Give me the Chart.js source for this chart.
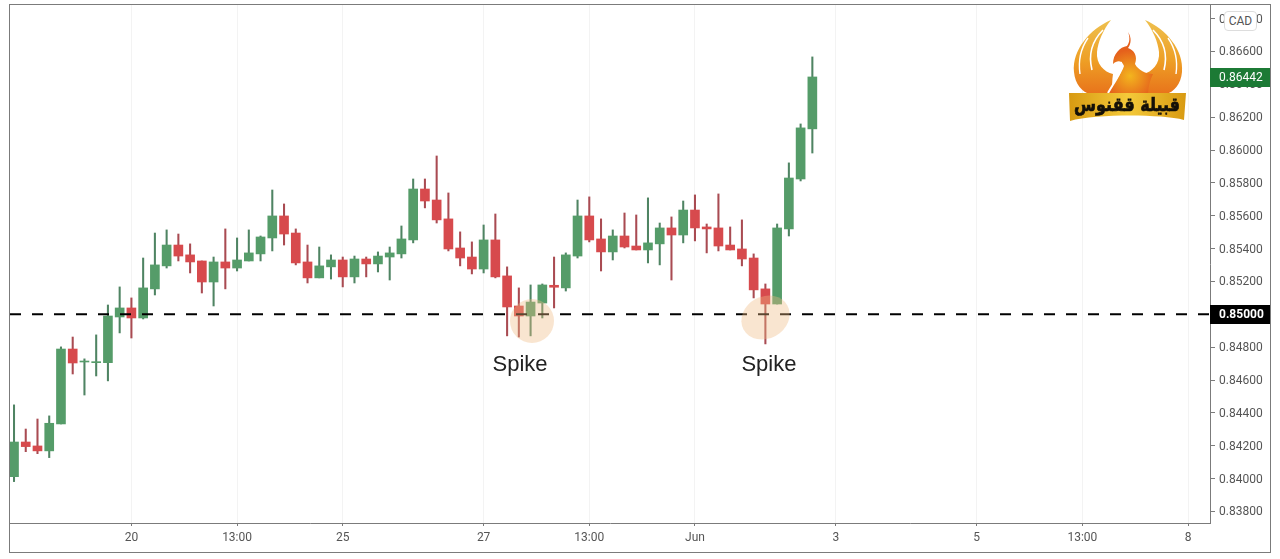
<!DOCTYPE html>
<html>
<head>
<meta charset="utf-8">
<title>CAD chart</title>
<script src="https://cdn.jsdelivr.net/npm/chart.js@4/dist/chart.umd.min.js"></script>
<style>
    html, body { margin: 0; padding: 0; background: #fff; overflow: hidden; }
    #wrap { position: relative; width: 1280px; height: 559px; }
    #chart { position: absolute; left: 0; top: 0; }
    #cad {
        position: absolute; left: 1224px; top: 11px; width: 31px; height: 18px; line-height: 18px;
        border: 1px solid #ddd; border-radius: 4px; background: #fff; color: #555;
        font: 12px/18px Roboto, sans-serif; text-align: center;
    }
    #logo { position: absolute; left: 0; top: 0; }
</style>
</head>
<body>
<div id="wrap">
    <canvas id="chart" width="1280" height="559"></canvas>
    <svg id="logo" width="1280" height="130" viewBox="0 0 1280 130">
        <defs>
            <linearGradient id="wing" gradientUnits="userSpaceOnUse" x1="0" y1="20" x2="0" y2="94">
                <stop offset="0" stop-color="#eec04e"/>
                <stop offset="0.55" stop-color="#ee9f25"/>
                <stop offset="1" stop-color="#e8731b"/>
            </linearGradient>
            <radialGradient id="core" gradientUnits="userSpaceOnUse" cx="1130" cy="76" r="26">
                <stop offset="0" stop-color="#f3b51e"/>
                <stop offset="1" stop-color="#e5601c"/>
            </radialGradient>
            <linearGradient id="banner" x1="0" y1="0" x2="1" y2="0">
                <stop offset="0" stop-color="#d89a12"/>
                <stop offset="0.5" stop-color="#f4c93a"/>
                <stop offset="1" stop-color="#d89a12"/>
            </linearGradient>
            <g id="wingShape">
                <path d="M1111 20 C1090 29 1072 50 1074 72 C1075 84 1082 92 1090 94 L1112 94 C1112 88 1112 80 1113 74 C1104 72 1096 64 1097 52 C1098 42 1103 30 1111 20 Z" fill="url(#wing)"/>
                <path d="M1103 30 C1093 40 1088 54 1092 70" fill="none" stroke="#fff" stroke-width="1.6"/>
                <path d="M1088 38 C1081 48 1078 60 1080 74" fill="none" stroke="#fff" stroke-width="1.4"/>
            </g>
        </defs>
        <use href="#wingShape"/>
        <use href="#wingShape" transform="translate(2256,0) scale(-1,1)"/>
        <path d="M1128 32 C1132 38 1131 44 1128 48 C1134 50 1138 56 1135 64 C1138 70 1146 74 1153 74 C1150 80 1148 88 1148 94 L1108 94 C1112 84 1122 74 1124 66 C1122 60 1117 60 1113 64 C1113 54 1120 47 1127 46 C1130 42 1130 37 1128 32 Z" fill="url(#core)"/>
        <path d="M1121 62 C1123 72 1114 82 1108 93" fill="none" stroke="#fff" stroke-width="2"/>
        <path d="M1069 93 L1186 93 L1184 120 C1160 114 1096 114 1070 121 Z" fill="url(#banner)"/>
        <text x="1127" y="111" text-anchor="middle" font-family="DejaVu Sans" font-weight="bold" font-size="19" fill="#141008" stroke="#141008" stroke-width="0.7" textLength="106" lengthAdjust="spacingAndGlyphs" direction="rtl">قبيلة ققنوس</text>
    </svg>
    <div id="cad">CAD</div>
</div>
<script>
const opens = [0.84012,0.84223,0.84199,0.84169,0.84333,0.84789,0.84710,0.84706,0.84706,0.84984,0.85039,0.84978,0.85155,0.85295,0.85422,0.85362,0.85325,0.85197,0.85319,0.85282,0.85325,0.85368,0.85465,0.85599,0.85495,0.85319,0.85222,0.85289,0.85331,0.85228,0.85337,0.85307,0.85349,0.85368,0.85453,0.85763,0.85696,0.85581,0.85404,0.85349,0.85276,0.85453,0.85234,0.85051,0.84990,0.85069,0.85177,0.85161,0.85355,0.85599,0.85459,0.85380,0.85477,0.85416,0.85392,0.85429,0.85526,0.85483,0.85635,0.85532,0.85526,0.85422,0.85398,0.85343,0.85155,0.85063,0.85520,0.85824,0.86129];
const highs = [0.84449,0.84302,0.84363,0.84382,0.84802,0.84862,0.84729,0.84875,0.85057,0.85167,0.85100,0.85343,0.85495,0.85514,0.85489,0.85429,0.85325,0.85349,0.85520,0.85465,0.85514,0.85477,0.85757,0.85672,0.85520,0.85422,0.85410,0.85362,0.85349,0.85355,0.85349,0.85380,0.85410,0.85538,0.85824,0.85824,0.85964,0.85739,0.85502,0.85441,0.85544,0.85611,0.85289,0.85161,0.85179,0.85185,0.85349,0.85374,0.85696,0.85715,0.85581,0.85514,0.85617,0.85605,0.85709,0.85556,0.85593,0.85690,0.85727,0.85550,0.85733,0.85532,0.85575,0.85368,0.85185,0.85550,0.85922,0.86159,0.86567];
const lows = [0.83982,0.84164,0.84152,0.84128,0.84333,0.84637,0.84509,0.84625,0.84595,0.84887,0.84856,0.84972,0.85118,0.85282,0.85325,0.85252,0.85130,0.85051,0.85155,0.85264,0.85325,0.85325,0.85386,0.85422,0.85301,0.85191,0.85222,0.85215,0.85167,0.85191,0.85228,0.85258,0.85209,0.85343,0.85435,0.85648,0.85556,0.85386,0.85295,0.85246,0.85252,0.85222,0.84869,0.84862,0.84869,0.84978,0.85039,0.85142,0.85343,0.85441,0.85264,0.85331,0.85404,0.85392,0.85313,0.85301,0.85209,0.85435,0.85447,0.85374,0.85386,0.85392,0.85295,0.85100,0.84820,0.85063,0.85477,0.85812,0.85982];
const closes = [0.84223,0.84195,0.84169,0.84337,0.84789,0.84704,0.84716,0.84712,0.84990,0.85039,0.84978,0.85161,0.85301,0.85422,0.85355,0.85319,0.85197,0.85319,0.85282,0.85331,0.85374,0.85471,0.85599,0.85489,0.85313,0.85222,0.85295,0.85331,0.85228,0.85337,0.85307,0.85355,0.85374,0.85459,0.85763,0.85690,0.85575,0.85398,0.85343,0.85276,0.85453,0.85228,0.85045,0.84990,0.85075,0.85179,0.85165,0.85362,0.85599,0.85453,0.85380,0.85477,0.85410,0.85392,0.85435,0.85526,0.85483,0.85635,0.85526,0.85520,0.85416,0.85392,0.85337,0.85149,0.85063,0.85526,0.85830,0.86135,0.86445];

const priceTicks = [0.838,0.840,0.842,0.844,0.846,0.848,0.850,0.852,0.854,0.856,0.858,0.860,0.862,0.864,0.866,0.868];
const timeTicks = [10,19,28,40,49,58,70,82,91,100];
const timeLabels = ['20','13:00','25','27','13:00','Jun','3','5','13:00','8'];

const supportLevel = 0.85;
const lastPrice = 0.86442;
const spikeLabels = [[43.1, 0.84692], [64.3, 0.84692]];

const UP = '#559c69';
const DOWN = '#d74a4d';
const UP_WICK = '#4f8463';
const DOWN_WICK = '#a94b52';
const FRAME = '#7b7b7b';

const bodies = opens.map((o, i) => ({ x: i, y: [o, closes[i]] }));
const wicks = highs.map((h, i) => ({ x: i, y: [lows[i], h] }));
const isUp = opens.map((o, i) => closes[i] >= o);

// frame, spike highlights and price tags sit on top of the chart
const overlay = {
    id: 'overlay',
    beforeDatasetsDraw(chart) {
        const c = chart.ctx;
        c.save();
        // the screenshot has a white patch under the first label
        c.fillStyle = '#fff';
        c.fillRect(484, 345, 72, 45);
        c.restore();
    },
    afterDatasetsDraw(chart) {
        const c = chart.ctx;
        c.save();
        c.fillStyle = 'rgba(240,186,132,0.38)';
        c.beginPath();
        c.ellipse(532, 321, 22, 22, 0, 0, Math.PI * 2);
        c.fill();
        c.beginPath();
        c.ellipse(765.5, 317.5, 25, 21, -0.5, 0, Math.PI * 2);
        c.fill();

        c.fillStyle = '#222';
        c.font = '22px "Liberation Sans"';
        c.textAlign = 'center';
        c.textBaseline = 'middle';
        spikeLabels.forEach(p => {
            c.fillText('Spike', chart.scales.x.getPixelForValue(p[0]), chart.scales.y.getPixelForValue(p[1]));
        });
        c.restore();
    },
    afterDraw(chart) {
        const c = chart.ctx;
        const y = chart.scales.y;
        c.save();
        c.font = '12px Roboto';
        c.textBaseline = 'middle';

        c.fillStyle = '#1c7a35';
        c.fillRect(1210, 68, 60, 19);
        c.fillStyle = '#fff';
        c.fillText(lastPrice.toFixed(5), 1219, y.getPixelForValue(lastPrice) + 1);

        c.fillStyle = '#000';
        c.fillRect(1210, 305, 60, 19);
        c.fillStyle = '#fff';
        c.font = 'bold 12px Roboto';
        c.fillText(supportLevel.toFixed(5), 1219, y.getPixelForValue(supportLevel) + 1);

        c.strokeStyle = FRAME;
        c.lineWidth = 1;
        c.strokeRect(9.5, 4.5, 1261, 548);
        c.restore();
    }
};

new Chart(document.getElementById('chart'), {
    data: {
        datasets: [
            {
                type: 'line',
                data: [{ x: -0.341, y: supportLevel }, { x: 101.87, y: supportLevel }],
                borderColor: '#000',
                borderWidth: 2,
                borderDash: [11, 11],
                pointRadius: 0,
                order: 0
            },
            {
                type: 'bar',
                data: bodies,
                backgroundColor: isUp.map(u => u ? UP : DOWN),
                barThickness: 9,
                grouped: false,
                order: 1
            },
            {
                type: 'bar',
                data: wicks,
                backgroundColor: isUp.map(u => u ? UP_WICK : DOWN_WICK),
                barThickness: 1.4,
                grouped: false,
                order: 2
            }
        ]
    },
    options: {
        responsive: false,
        animation: false,
        devicePixelRatio: 1,
        layout: { padding: { left: 10, top: 5, right: 10, bottom: 7 } },
        plugins: { legend: { display: false }, tooltip: { enabled: false } },
        scales: {
            x: {
                type: 'linear',
                offset: false,
                min: -0.341,
                max: 101.87,
                afterFit: s => { s.height = 29; s.paddingLeft = 0; s.paddingRight = 0; },
                afterBuildTicks: s => { s.ticks = timeTicks.map(v => ({ value: v })); },
                grid: { offset: false, color: '#f3f3f3', tickColor: FRAME, tickLength: 3 },
                border: { color: FRAME },
                ticks: {
                    autoSkip: false,
                    maxRotation: 0,
                    padding: 5,
                    color: '#555',
                    font: { family: 'Roboto', size: 12 },
                    callback: v => timeLabels[timeTicks.indexOf(v)]
                }
            },
            y: {
                position: 'right',
                min: 0.8373,
                max: 0.86883,
                afterFit: s => { s.width = 60; s.paddingTop = 0; s.paddingBottom = 0; },
                afterBuildTicks: s => { s.ticks = priceTicks.map(v => ({ value: v })); },
                grid: { drawOnChartArea: false, tickColor: FRAME, tickLength: 5 },
                border: { color: FRAME },
                ticks: {
                    autoSkip: false,
                    padding: 4,
                    labelOffset: 1,
                    color: '#555',
                    font: { family: 'Roboto', size: 12 },
                    callback: v => v.toFixed(5)
                }
            }
        }
    },
    plugins: [overlay]
});
</script>
</body>
</html>
